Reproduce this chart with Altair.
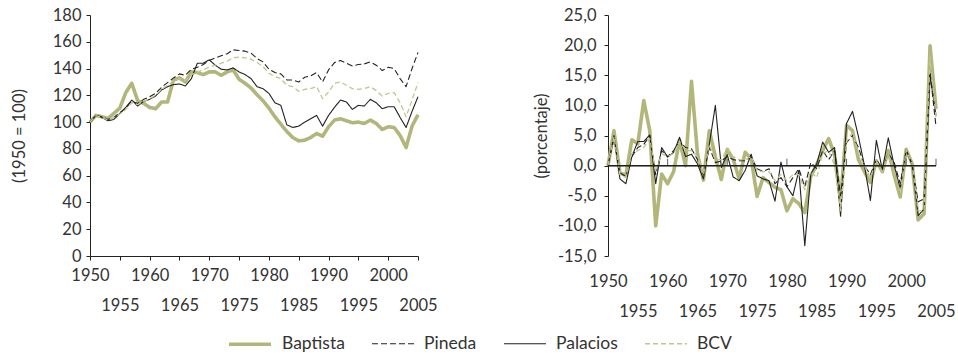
import altair as alt
import pandas as pd

years = list(range(1950, 2006))
series = ["Baptista", "Pineda", "Palacios", "BCV"]
colors = ["#b3b67b", "#222222", "#222222", "#c2c58f"]
dashes = [[1, 0], [6, 3], [1, 0], [5, 3]]
widths = [3.6, 1.1, 1.1, 1.3]

# Left panel: index (1950 = 100)
idx_baptista = [100, 105, 104, 102.7, 106.5, 110.5, 122, 129, 116, 114,
                111, 110, 115, 115, 131.5, 133, 130, 137.5, 137, 135.5,
                137.5, 137.5, 135, 137.5, 139, 132, 129, 125.5, 120.5, 116,
                110.5, 104, 98.5, 93, 88.5, 86, 86.5, 88.5, 91.5, 89.5,
                96.5, 101.5, 102.5, 101, 99.5, 100, 99, 101.5, 99, 94.5,
                96.5, 96, 90, 81, 97, 105.5]
idx_pineda = [100, 105, 104, 102, 103.5, 107, 110.5, 115.5, 114, 117,
              119, 121.5, 126, 129.5, 133, 136, 135, 139.5, 141, 143,
              146, 148, 149.5, 151, 154, 153.5, 153, 151.5, 147.5, 145,
              139.5, 137, 136, 131.5, 131.5, 130, 133.5, 134.5, 137, 130,
              139, 144.5, 146, 144, 142, 143, 143.5, 145, 142.5, 138.5,
              141, 140, 132.5, 126.5, 140, 152]
idx_palacios = [100, 105, 103.5, 101, 102, 106.5, 111, 116.5, 112, 115.5,
                117, 119.5, 124, 126.5, 128, 128.5, 127, 132.5, 144, 144,
                146.5, 142.5, 139.5, 139, 140.5, 137.5, 135.5, 132.5, 126.5, 125,
                121.5, 114.5, 112.5, 98, 96, 97, 100, 102.5, 105, 97,
                105, 111, 116.5, 115, 109.5, 112.5, 112, 117, 114.5, 110,
                111.5, 111.5, 103.5, 96, 108, 119]
idx_bcv = [100, 104.8, 103.5, 101.5, 103.5, 106, 109.5, 114.5, 113, 115.5,
           117.5, 120, 124.5, 127.5, 130.5, 132.5, 131, 135.5, 137.5, 139,
           141, 142.5, 144, 145.5, 148, 148.5, 148, 147, 144.5, 141.5,
           136.5, 134, 132.5, 127.5, 126.5, 123, 124.5, 125, 126.5, 117.5,
           122.5, 129, 130, 127.5, 125, 124.5, 125, 126.5, 123.5, 119.5,
           121.5, 122, 114.5, 104, 116.5, 129.5]

# Right panel: growth rates (porcentaje)
gr_baptista = [0, 5.8, -1.2, -1.6, 4.3, 3.6, 10.8, 5.8, -10.0, -1.4,
               -3.0, -1.0, 4.2, 0.0, 14.0, 2.0, -2.4, 5.8, 1.5, -2.3,
               2.7, 1.0, -2.2, 2.2, 1.2, -5.1, -2.0, -2.8, -3.6, -4.0,
               -7.5, -5.5, -6.3, -7.8, -1.8, 0.2, 2.5, 4.5, 1.8, -5.8,
               6.7, 5.8, 1.0, -1.0, -2.8, 0.8, -1.0, 2.5, -1.6, -5.2,
               2.7, 0.3, -9.0, -8.0, 19.9, 9.4]
gr_pineda = [0, 4.5, -1.2, -1.8, 1.5, 3.0, 3.5, 5.0, -1.5, 2.5,
             1.5, 2.5, 4.0, 3.0, 2.8, 1.0, -1.5, 3.0, 0.5, 0.8,
             1.5, 1.0, 0.8, 0.8, 1.5, -0.5, -1.0, -0.5, -3.0, -2.0,
             -3.5, -2.0, -0.5, -3.5, 0.5, -0.5, 2.5, 1.0, 2.5, -5.0,
             3.8, 5.0, 3.0, 0.0, -1.5, 1.0, -0.5, 2.0, 0.5, -3.0,
             2.5, 0.2, -6.0, -5.5, 15.5, 6.5]
gr_palacios = [0, 5.0, -2.2, -3.0, 1.5, 4.0, 4.0, 5.1, -3.0, 3.0,
               1.4, 2.2, 4.7, 1.5, 1.9, 0.3, -2.2, 3.6, 10.0, -0.3,
               1.8, -1.9, -2.5, -0.8, 1.9, -1.7, -2.2, -2.5, -5.9, 0.6,
               -3.5, -5.0, -0.8, -13.3, -1.4, 0.3, 3.9, 2.2, 3.0, -8.4,
               7.0, 9.0, 4.8, 0.0, -5.8, 4.2, -0.7, 4.6, 0.0, -3.8,
               2.6, 0.2, -8.3, -7.2, 15.0, 8.3]
gr_bcv = [0, 4.8, -1.5, -2.0, 2.0, 2.5, 3.0, 4.5, -1.0, 2.0,
          1.5, 2.0, 4.0, 2.5, 2.5, 1.5, -1.5, 3.5, 1.0, 1.0,
          2.8, 1.5, 1.0, 1.0, 1.5, -0.8, -1.0, -1.0, -2.5, -1.5,
          -2.5, -1.5, -1.5, -4.0, -1.0, -2.0, 2.0, 2.5, 0.0, -7.5,
          4.0, 5.5, 2.0, 0.0, -2.0, 0.8, -1.0, 2.0, -1.0, -4.5,
          2.6, 0.3, -7.5, -7.5, 18.0, 8.0]

x_label_years = list(range(1950, 2006, 5))
right_tick_years = [1960, 1970, 1980, 1990, 2000, 2005]


def to_long(cols):
    rows = []
    for name, vals in zip(series, cols):
        for yr, v in zip(years, vals):
            rows.append({"year": yr, "serie": name, "value": v})
    return pd.DataFrame(rows)


df_idx = to_long([idx_baptista, idx_pineda, idx_palacios, idx_bcv])
df_gr = to_long([gr_baptista, gr_pineda, gr_palacios, gr_bcv])
df_ticks = pd.DataFrame({"year": right_tick_years})

FONT = "Lato"
TXT = "#333333"
W, H = 328, 241
FS = 16.5

stagger = "datum.value % 10 == 0 ? datum.label : ['', datum.label]"

xscale = alt.Scale(domain=[1950, 2005], nice=False, zero=False)
yscale_r = alt.Scale(domain=[-15, 25], nice=False)

enc_style = dict(
    color=alt.Color("serie:N", scale=alt.Scale(type="ordinal", domain=series, range=colors),
                    legend=alt.Legend(title=None)),
    strokeDash=alt.StrokeDash("serie:N", scale=alt.Scale(type="ordinal", domain=series, range=dashes),
                              legend=alt.Legend(title=None)),
    strokeWidth=alt.StrokeWidth("serie:N", scale=alt.Scale(type="ordinal", domain=series, range=widths),
                                legend=alt.Legend(title=None)),
)

left = alt.Chart(df_idx).mark_line(strokeJoin="round").encode(
    x=alt.X("year:Q", scale=xscale,
            axis=alt.Axis(values=x_label_years, labelExpr=stagger, title=None, grid=False,
                          tickSize=4, labelPadding=7, labelLineHeight=30, labelOverlap=False,
                          labelFlush=False, labelBound=False, format="d")),
    y=alt.Y("value:Q", scale=alt.Scale(domain=[0, 180], nice=False),
            axis=alt.Axis(values=list(range(0, 181, 20)), title="(1950 = 100)", grid=False,
                          tickSize=4, labelPadding=5, titleX=-71, titleY=H / 2, titleAngle=-90,
                          titleAlign="center", titleBaseline="middle", format="d",
                          labelOverlap=False)),
    **enc_style,
).properties(width=W, height=H)

x_axis_r = alt.Axis(values=x_label_years, labelExpr=stagger, title=None, grid=False,
                    domain=False, ticks=False, labelPadding=17, labelLineHeight=30,
                    labelOverlap=False, labelFlush=False, labelBound=False, format="d")
y_axis_r = alt.Axis(values=list(range(-15, 26, 5)), title="(porcentaje)", grid=False,
                    tickSize=4, labelPadding=8, titleX=-67, titleY=H / 2, titleAngle=-90,
                    titleAlign="center", titleBaseline="middle", labelOverlap=False,
                    labelExpr="replace(replace(format(datum.value, '.1f'), '.', ','), '\u2212', '-')")

gr_lines = alt.Chart(df_gr).mark_line(strokeJoin="round").encode(
    x=alt.X("year:Q", scale=xscale, axis=x_axis_r),
    y=alt.Y("value:Q", scale=yscale_r, axis=y_axis_r),
    **enc_style,
)

zero_rule = alt.Chart(df_ticks).mark_rule(color="#222222", strokeWidth=1).encode(
    y=alt.YDatum(0, scale=yscale_r, axis=y_axis_r)
)
zero_ticks = alt.Chart(df_ticks).mark_tick(color="#222222", orient="vertical", size=7, thickness=1, yOffset=-3.5).encode(
    x=alt.X("year:Q", scale=xscale, axis=x_axis_r),
    y=alt.YDatum(0, scale=yscale_r, axis=y_axis_r),
)

right = alt.layer(gr_lines, zero_rule, zero_ticks).properties(width=W, height=H)

chart = alt.hconcat(left, right, spacing=190, bounds="flush").resolve_scale(
    color="shared", strokeDash="shared", strokeWidth="shared"
).properties(
    padding={"left": 10, "top": 7, "right": 0, "bottom": 0}
).configure_view(stroke=None).configure_axis(
    labelFont=FONT, titleFont=FONT, labelFontSize=FS, titleFontSize=FS,
    labelColor=TXT, titleColor=TXT, titleFontWeight="normal",
    domainColor="#222222", tickColor="#222222", domainWidth=1, tickWidth=1,
).configure_legend(
    orient="none", legendX=137, legendY=306, direction="horizontal",
    symbolType="stroke", symbolSize=1764, labelFont=FONT, labelFontSize=17.5,
    labelColor=TXT, labelOffset=9, columnPadding=24, padding=0,
)

chart.save("out.html", embed_options={"renderer": "svg", "actions": False})
